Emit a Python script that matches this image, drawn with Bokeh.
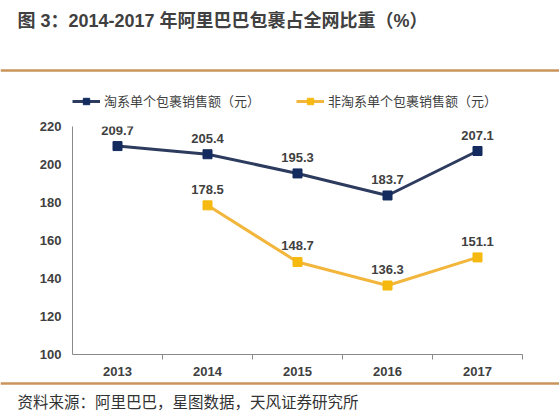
from bokeh.plotting import figure
from bokeh.layouts import column
from bokeh.models import (ColumnDataSource, FixedTicker, LabelSet, Legend,
                          LegendItem, Span, Range1d)
from bokeh.core.properties import value
from bokeh.embed import file_html
from bokeh.resources import INLINE

# ---------------- data ----------------
years = [2013, 2014, 2015, 2016, 2017]
year_labels = ["2013", "2014", "2015", "2016", "2017"]
taobao_values = [209.7, 205.4, 195.3, 183.7, 207.1]
non_taobao_years = [2014, 2015, 2016, 2017]
non_taobao_values = [178.5, 148.7, 136.3, 151.1]
y_ticks = [100, 120, 140, 160, 180, 200, 220]

title_text = "图 3：2014-2017 年阿里巴巴包裹占全网比重（%）"
series_names = ["淘系单个包裹销售额（元）", "非淘系单个包裹销售额（元）"]
source_text = "资料来源：阿里巴巴，星图数据，天风证券研究所"

# ---------------- style ----------------
NAVY_LINE = "#2d3b5e"
NAVY_MARK = "#132b5e"
GOLD_LINE = "#f2b63d"
GOLD_MARK = "#f5b90f"
RULE = "#c9955b"
TEXT = "#404040"
AXIS = "#8a8a8a"
FONT = "'Liberation Sans', 'Noto Sans CJK SC', sans-serif"

W = 559
HEAD_H, MAIN_H, FOOT_H = 112, 268, 40
FRAME_L, FRAME_R, FRAME_T, FRAME_B = 72, 522, 126, 354   # page pixels


def blank(height):
    f = figure(width=W, height=height, output_backend="svg", toolbar_location=None,
               x_range=Range1d(0, W), y_range=Range1d(height, 0),
               x_axis_location=None, y_axis_location=None,
               min_border=0, title=None, frame_align=False)
    f.grid.visible = False
    f.outline_line_color = None
    f.background_fill_color = "white"
    f.border_fill_color = "white"
    return f


def style_line(f, color_line, color_mark, **src):
    ln = f.line(line_color=color_line, line_width=3, **src)
    mk = f.scatter(marker="square", size=9, fill_color=color_mark,
                   line_color=color_mark, **src)
    return ln, mk


# ---------------- header: title, rule, legend ----------------
head = blank(HEAD_H)
head.text(x=[17], y=[20], text=[title_text], text_baseline="middle",
          text_align="left", text_font=value(FONT), text_font_style="bold",
          text_font_size="18px", text_color=TEXT)
head.add_layout(Span(location=70, dimension="width", line_color=RULE, line_width=2.5))

nan = float("nan")
proxy_a = style_line(head, NAVY_LINE, NAVY_MARK, x=[nan], y=[nan])
proxy_b = style_line(head, GOLD_LINE, GOLD_MARK, x=[nan], y=[nan])
legend = Legend(items=[LegendItem(label=series_names[0], renderers=list(proxy_a)),
                       LegendItem(label=series_names[1], renderers=list(proxy_b))],
                orientation="horizontal", location=(FRAME_L, 2),
                label_text_font=FONT, label_text_font_size="13px",
                label_text_color=TEXT, glyph_width=28, glyph_height=16,
                label_standoff=4, spacing=36, padding=0, margin=0,
                border_line_color=None, background_fill_alpha=0)
head.add_layout(legend)

# ---------------- main chart ----------------
p = figure(width=W, height=MAIN_H, output_backend="svg", toolbar_location=None,
           x_range=(2012.5, 2017.5), y_range=(100, 220), title=None,
           min_border_left=FRAME_L, min_border_right=W - FRAME_R,
           min_border_top=FRAME_T - HEAD_H,
           min_border_bottom=HEAD_H + MAIN_H - FRAME_B, frame_align=False)
p.outline_line_color = None
p.background_fill_color = "white"
p.border_fill_color = "white"
p.xgrid.visible = False
p.ygrid.visible = False

xa = p.xaxis[0]
xa.ticker = FixedTicker(ticks=years, minor_ticks=[y + 0.5 for y in years])
xa.major_label_overrides = {y: l for y, l in zip(years, year_labels)}
xa.major_tick_line_color = None
xa.major_tick_out = 0
xa.major_tick_in = 0
xa.minor_tick_line_color = AXIS
xa.minor_tick_out = 5
xa.minor_tick_in = 0
xa.axis_line_color = AXIS
xa.major_label_text_font = FONT
xa.major_label_text_font_style = "bold"
xa.major_label_text_font_size = "13px"
xa.major_label_text_color = TEXT
xa.major_label_standoff = 7

ya = p.yaxis[0]
ya.ticker = FixedTicker(ticks=y_ticks)
ya.major_tick_line_color = None
ya.minor_tick_line_color = None
ya.major_tick_out = 0
ya.axis_line_color = AXIS
ya.major_label_text_font = FONT
ya.major_label_text_font_style = "bold"
ya.major_label_text_font_size = "13px"
ya.major_label_text_color = TEXT
ya.major_label_standoff = 11

src_a = ColumnDataSource(dict(x=years, y=taobao_values,
                              t=[f"{v:.1f}" for v in taobao_values]))
src_b = ColumnDataSource(dict(x=non_taobao_years, y=non_taobao_values,
                              t=[f"{v:.1f}" for v in non_taobao_values]))
style_line(p, NAVY_LINE, NAVY_MARK, x="x", y="y", source=src_a)
style_line(p, GOLD_LINE, GOLD_MARK, x="x", y="y", source=src_b)

for src in (src_a, src_b):
    p.add_layout(LabelSet(x="x", y="y", text="t", source=src, y_offset=16,
                          text_align="center", text_baseline="middle",
                          text_font=value(FONT), text_font_style="bold",
                          text_font_size="13px", text_color=TEXT))

# ---------------- footer: rule and source ----------------
foot = blank(FOOT_H)
foot.add_layout(Span(location=3, dimension="width", line_color=RULE, line_width=2.5))
foot.text(x=[17], y=[22], text=[source_text], text_baseline="middle",
          text_align="left", text_font=value(FONT), text_font_size="15.5px",
          text_color="#333333")

layout = column(head, p, foot, spacing=0)
open("out.html", "w").write(file_html(layout, INLINE))
